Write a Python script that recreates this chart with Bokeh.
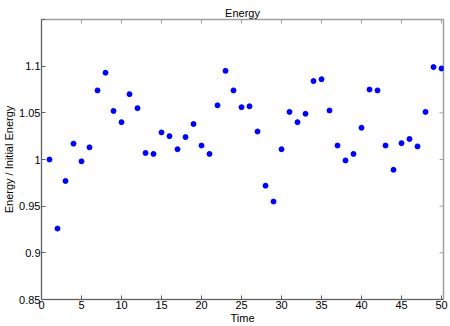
import math
from bokeh.plotting import figure
from bokeh.models import LinearAxis, FixedTicker, Range1d
from bokeh.embed import file_html
from bokeh.resources import INLINE

time = list(range(1, 51))
energy = [1.000, 0.926, 0.977, 1.017, 0.998, 1.013, 1.074, 1.093, 1.052, 1.040,
          1.070, 1.055, 1.007, 1.006, 1.029, 1.025, 1.011, 1.024, 1.038, 1.015,
          1.006, 1.058, 1.095, 1.074, 1.056, 1.057, 1.030, 0.972, 0.955, 1.011,
          1.051, 1.040, 1.049, 1.084, 1.086, 1.0525, 1.015, 0.999, 1.006, 1.034,
          1.075, 1.074, 1.015, 0.989, 1.0175, 1.022, 1.014, 1.051, 1.099, 1.0975]
x_ticks = [0, 5, 10, 15, 20, 25, 30, 35, 40, 45, 50]
y_ticks = [0.85, 0.9, 0.95, 1.0, 1.05, 1.1, 1.15]
y_tick_labels = ["0.85", "0.9", "0.95", "1", "1.05", "1.1", ""]
x_min, x_max = 0, 50.25
y_min, y_max = 0.85, 1.15

FONT = "Liberation Sans"
FS = "11px"

p = figure(width=450, height=326, output_backend="svg", toolbar_location=None,
           x_range=Range1d(x_min, x_max), y_range=Range1d(y_min, y_max),
           x_axis_location=None, y_axis_location=None,
           min_border_left=41, min_border_right=7, min_border_top=19, min_border_bottom=27)
p.title.text = "Energy"
p.title.align = "center"
p.title.text_font = FONT
p.title.text_font_size = FS
p.title.text_font_style = "normal"
p.title.text_color = "#000000"
p.title.offset = 0
p.title.standoff = 2
p.grid.visible = False
p.outline_line_color = "#a0a0a0"
p.outline_line_width = 1.5
p.background_fill_color = "white"
p.border_fill_color = "white"

overrides = {t: l for t, l in zip(y_ticks, y_tick_labels)}


def style(ax):
    ax.major_tick_in = 4
    ax.major_tick_out = 0
    ax.minor_tick_in = 0
    ax.minor_tick_out = 0
    ax.major_tick_line_color = "#606060"
    ax.axis_line_color = "#606060"
    ax.major_label_text_font = FONT
    ax.major_label_text_font_size = FS
    ax.major_label_text_color = "#000000"
    ax.major_label_standoff = 1
    ax.axis_label_text_font = FONT
    ax.axis_label_text_font_size = FS
    ax.axis_label_text_font_style = "normal"
    ax.axis_label_text_color = "#000000"
    ax.axis_label_standoff = 0


xb = LinearAxis(ticker=FixedTicker(ticks=x_ticks), axis_label="Time")
style(xb)
p.add_layout(xb, "below")
yl = LinearAxis(ticker=FixedTicker(ticks=y_ticks), axis_label="Energy / Initial Energy",
                major_label_overrides=overrides)
style(yl)
yl.major_label_standoff = 1
yl.axis_label_standoff = 1
p.add_layout(yl, "left")

# inward ticks on the top and right edges of the box
p.ray(x=x_ticks, y=[y_max] * len(x_ticks), length=4, length_units="screen",
      angle=-math.pi / 2, line_color="#a0a0a0", line_width=1)
p.ray(x=[x_max] * len(y_ticks), y=y_ticks, length=4, length_units="screen",
      angle=math.pi, line_color="#a0a0a0", line_width=1)

p.scatter(time, energy, size=5, color="#0000ff")

open("out.html", "w").write(file_html(p, INLINE))
